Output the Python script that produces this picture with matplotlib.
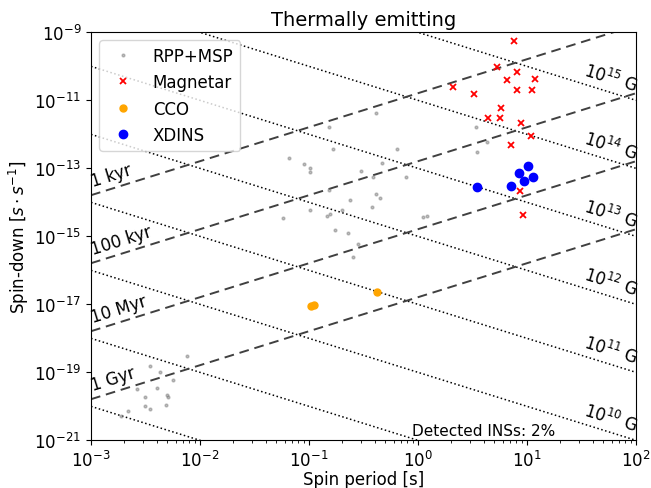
import numpy as np
import matplotlib
matplotlib.use("Agg")
import matplotlib.pyplot as plt

# spin period [s] and spin-down [s/s]
rpp_period = [0.152, 0.167, 0.066, 0.090, 0.103, 0.102, 0.298, 0.153, 0.238, 0.102,
              0.157, 0.145, 0.200, 0.058, 0.174, 0.228, 0.283, 0.255, 0.412, 3.42,
              0.636, 3.49, 0.47, 0.386, 0.78, 4.33, 0.416, 0.445, 0.377, 1.11, 1.20,
              7.55e-3, 3.46e-3, 4.31e-3, 5.69e-3, 2.63e-3, 4.0e-3, 4.95e-3, 5.14e-3,
              3.13e-3, 3.13e-3, 3.46e-3, 4.83e-3, 2.17e-3, 1.88e-3]
rpp_pdot = [1.57e-12, 3.7e-13, 1.97e-13, 1.29e-13, 9.8e-14, 7.8e-14, 8.2e-14, 2.18e-14, 1.11e-14, 5.9e-15,
            4.5e-15, 3.8e-15, 5.8e-15, 3.4e-15, 1.53e-15, 1.19e-15, 5.7e-16, 2.4e-16, 4.15e-12, 1.66e-12,
            3.57e-13, 3.05e-13, 1.43e-13, 5.4e-14, 5.3e-14, 5.7e-13, 1.75e-14, 1.33e-14, 7.3e-15, 3.6e-15, 3.8e-15,
            3.0e-19, 1.53e-19, 9.8e-20, 5.8e-20, 3.06e-20, 3.45e-20, 2.08e-20, 1.82e-20,
            1.78e-20, 9.8e-21, 8.0e-21, 1.04e-20, 7.0e-21, 5.0e-21]

mag_period = [7.64, 5.27, 8.15, 6.51, 11.9, 2.10, 3.29, 8.10, 11.2, 5.81, 4.36, 5.62,
              8.81, 10.8, 7.08, 8.63, 9.19]
mag_pdot = [5.55e-10, 9.5e-11, 6.8e-11, 3.95e-11, 4.15e-11, 2.36e-11, 1.47e-11, 1.97e-11,
            2.01e-11, 5.94e-12, 2.9e-12, 2.93e-12, 2.06e-12, 8.55e-13, 4.85e-13, 2.15e-14, 4.23e-15]

cco_period = [0.105, 0.112, 0.424]
cco_pdot = [8.7e-18, 9.3e-18, 2.2e-17]

xdins_period = [3.45, 7.06, 8.39, 10.31, 9.43, 11.37]
xdins_pdot = [2.8e-14, 3.0e-14, 7.0e-14, 1.12e-13, 4.1e-14, 5.5e-14]

b_fields = [1e8, 1e9, 1e10, 1e11, 1e12, 1e13, 1e14, 1e15, 1e16]
b_labels = [1e10, 1e11, 1e12, 1e13, 1e14, 1e15]
ages_yr = [1e3, 1e5, 1e7, 1e9]
age_labels = ['1 kyr', '100 kyr', '10 Myr', '1 Gyr']

YEAR = 3.156e7

plt.rcParams['font.size'] = 12
fig = plt.figure(figsize=(6.51, 4.89), dpi=100)
ax = fig.add_axes([91 / 651, 1 - 441 / 489, 545 / 651, 408 / 489])

ax.set_xscale('log')
ax.set_yscale('log')
ax.set_xlim(1e-3, 1e2)
ax.set_ylim(1e-21, 1e-9)

p = np.logspace(-3, 2, 200)

# constant magnetic field lines
for b in b_fields:
    ax.plot(p, (b / 3.2e19) ** 2 / p, ls=':', color='black', lw=1.1)

# characteristic age lines
for age in ages_yr:
    ax.plot(p, p / (2 * age * YEAR), ls='--', color='#404040', lw=1.4, dashes=(5, 3))

# angle of the lines on screen
ax.figure.canvas.draw()
p0 = ax.transData.transform((1e-3, 1e-15))
p1 = ax.transData.transform((1e-2, 1e-14))
angle = np.degrees(np.arctan2(p1[1] - p0[1], p1[0] - p0[0]))

for age, lab in zip(ages_yr, age_labels):
    x = 1.07e-3
    y = x / (2 * age * YEAR) * 1.35
    ax.text(x, y, lab, rotation=angle, rotation_mode='anchor', ha='left', va='bottom', fontsize=12)

for b in b_labels:
    x = 96.0
    y = (b / 3.2e19) ** 2 / x * 1.35
    expo = int(round(np.log10(b)))
    ax.text(x, y, r'$10^{%d}$ G' % expo, rotation=-angle, rotation_mode='anchor',
            ha='right', va='bottom', fontsize=12)

ax.plot(rpp_period, rpp_pdot, 'o', color='gray', ms=2, alpha=0.5, ls='none', label='RPP+MSP')
ax.plot(mag_period, mag_pdot, 'x', color='red', ms=5, mew=1.3, ls='none', label='Magnetar')
ax.plot(cco_period, cco_pdot, 'o', color='orange', ms=5, ls='none', label='CCO')
ax.plot(xdins_period, xdins_pdot, 'o', color='blue', ms=6, ls='none', label='XDINS')

ax.text(0.72, 0.004, 'Detected INSs: 2%', transform=ax.transAxes, ha='center', va='bottom', fontsize=11)

ax.set_title('Thermally emitting', fontsize=14, pad=5)
ax.set_xlabel('Spin period [s]', fontsize=12, labelpad=0)
ax.set_ylabel(r'Spin-down [$s \cdot s^{-1}$]', fontsize=12, labelpad=2)
ax.legend(loc='upper left', fontsize=12)

fig.savefig('out.png', dpi=100)
